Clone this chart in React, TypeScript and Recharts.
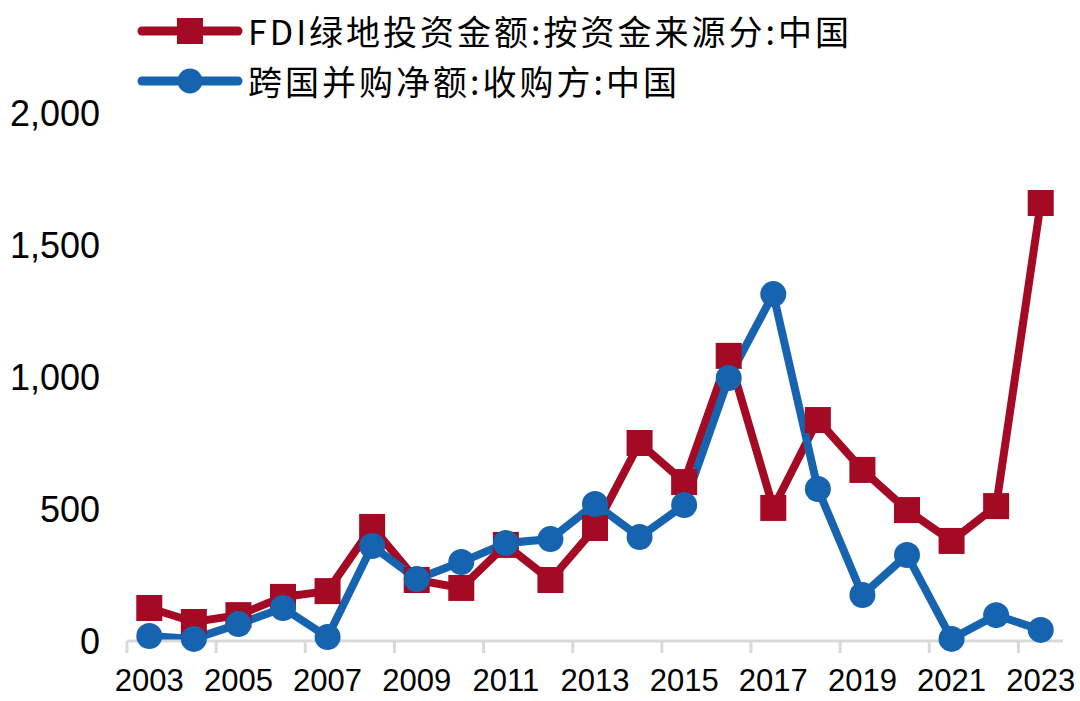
import React from 'react';
import { LineChart, Line, XAxis, YAxis } from 'recharts';

const years = [2003, 2004, 2005, 2006, 2007, 2008, 2009, 2010, 2011, 2012, 2013, 2014, 2015, 2016, 2017, 2018, 2019, 2020, 2021, 2022, 2023];
const fdiGreenfield = [125, 72, 98, 167, 189, 432, 231, 201, 364, 231, 428, 750, 602, 1080, 504, 837, 648, 496, 379, 511, 1659];
const crossBorderMA = [19, 8, 64, 125, 15, 360, 235, 299, 371, 386, 519, 394, 515, 996, 1314, 576, 174, 326, 8, 98, 42];
const labelYears = [2003, 2005, 2007, 2009, 2011, 2013, 2015, 2017, 2019, 2021, 2023];
const edgeTicks = [2002.5, 2004.5, 2006.5, 2008.5, 2010.5, 2012.5, 2014.5, 2016.5, 2018.5, 2020.5, 2022.5];
const yTicks = [0, 500, 1000, 1500, 2000];

const seriesNames = ['FDI绿地投资金额:按资金来源分:中国', '跨国并购净额:收购方:中国'];
const RED = '#A50A24';
const BLUE = '#1664B0';
const AXIS_GRAY = '#d9d9d9';

const data = years.map((y, i) => ({ year: y, fdi: fdiGreenfield[i], ma: crossBorderMA[i] }));
const xTicks = [...edgeTicks, ...labelYears].sort((a, b) => a - b);

const W = 1080;
const H = 701;

const SquareDot = (props: any) => {
  const { cx, cy, index } = props;
  if (cx == null || cy == null) return <g key={`s${index}`} />;
  return <rect key={`s${index}`} x={cx - 13} y={cy - 13} width={26} height={26} fill={RED} />;
};

const CircleDot = (props: any) => {
  const { cx, cy, index } = props;
  if (cx == null || cy == null) return <g key={`c${index}`} />;
  return <circle key={`c${index}`} cx={cx} cy={cy} r={13} fill={BLUE} />;
};

const XTick = (props: any) => {
  const { x, y, payload } = props;
  const v = payload.value as number;
  if (v % 1 !== 0) {
    return <line x1={x} y1={y} x2={x} y2={y + 12} stroke={AXIS_GRAY} strokeWidth={3} />;
  }
  return (
    <text
      x={x}
      y={y + 28}
      dy="0.71em"
      textAnchor="middle"
      fill="#000"
      fontSize={31}
      fontFamily='"Liberation Sans", Arial, sans-serif'
    >
      {v}
    </text>
  );
};

const legendItems = [
  { name: seriesNames[0], color: RED, shape: 'square' },
  { name: seriesNames[1], color: BLUE, shape: 'circle' },
];

const Legend = () => (
  <div style={{ position: 'absolute', left: 134, top: 6, zIndex: 2 }}>
    {legendItems.map((it) => (
      <div key={it.name} style={{ display: 'flex', alignItems: 'center', height: 50 }}>
        <svg width={112} height={40} style={{ display: 'block' }}>
          <line x1={8} y1={20} x2={104} y2={20} stroke={it.color} strokeWidth={9} strokeLinecap="round" />
          {it.shape === 'square' ? (
            <rect x={43} y={7} width={26} height={26} fill={it.color} />
          ) : (
            <circle cx={56} cy={20} r={12.5} fill={it.color} />
          )}
        </svg>
        <span
          style={{
            fontFamily: '"Noto Sans CJK SC", "Liberation Sans", sans-serif',
            fontSize: 34,
            letterSpacing: 3,
            color: '#000',
            marginLeft: 2,
            lineHeight: '40px',
            whiteSpace: 'nowrap',
          }}
        >
          {it.name}
        </span>
      </div>
    ))}
  </div>
);

export default function App() {
  return (
    <div style={{ position: 'absolute', left: 0, top: 0, width: W, height: H, background: '#fff' }}>
      <Legend />
      <LineChart width={W} height={H} data={data} margin={{ top: 113, right: 17, left: 0, bottom: 0 }}>
        <XAxis
          type="number"
          dataKey="year"
          domain={[2002.5, 2023.5]}
          ticks={xTicks}
          height={60}
          axisLine={{ stroke: AXIS_GRAY, strokeWidth: 3 }}
          tickLine={false}
          tickSize={0}
          tickMargin={0}
          interval={0}
          allowDataOverflow
          tick={XTick}
        />
        <YAxis
          type="number"
          domain={[0, 2000]}
          ticks={yTicks}
          width={127}
          axisLine={false}
          tickLine={false}
          tickSize={0}
          tickMargin={27}
          interval={0}
          tickFormatter={(v: number) => v.toLocaleString('en-US')}
          tick={{ fontSize: 36, fill: '#000', fontFamily: '"Liberation Sans", Arial, sans-serif' }}
        />
        <Line
          type="linear"
          dataKey="fdi"
          name={seriesNames[0]}
          stroke={RED}
          strokeWidth={8}
          dot={SquareDot}
          activeDot={false}
          isAnimationActive={false}
        />
        <Line
          type="linear"
          dataKey="ma"
          name={seriesNames[1]}
          stroke={BLUE}
          strokeWidth={8}
          dot={CircleDot}
          activeDot={false}
          isAnimationActive={false}
        />
      </LineChart>
    </div>
  );
}
